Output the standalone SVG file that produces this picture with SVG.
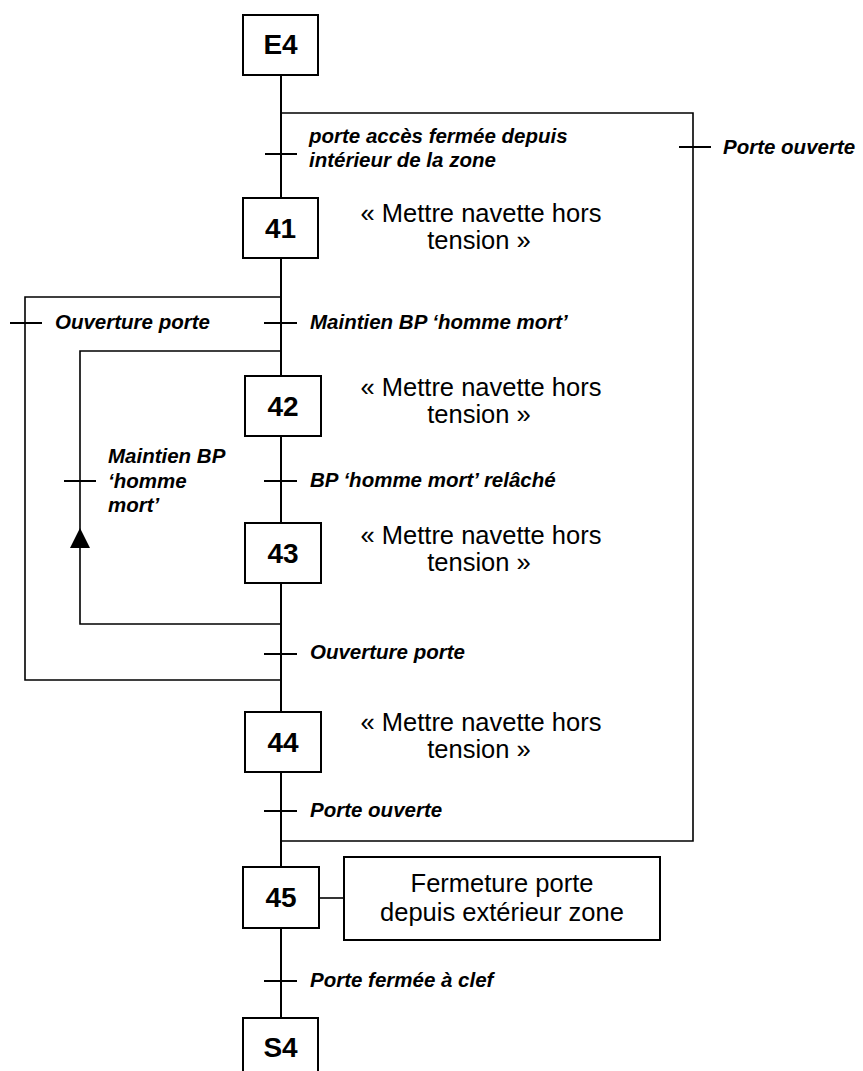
<svg xmlns="http://www.w3.org/2000/svg" width="863" height="1071" viewBox="0 0 863 1071">
<style>
.step{fill:#fff;stroke:#000;stroke-width:2}
.num{font-family:"Liberation Sans",Arial,sans-serif;font-weight:bold;font-size:28px;text-anchor:middle;fill:#000}
.act{font-family:"Liberation Sans",Arial,sans-serif;font-size:25.5px;text-anchor:middle;fill:#000}
.tr{font-family:"Liberation Sans",Arial,sans-serif;font-weight:bold;font-style:italic;font-size:20.5px;fill:#000}
.ln{fill:none;stroke:#000;stroke-width:1.6}
.main{fill:none;stroke:#000;stroke-width:2}
.tick{stroke:#000;stroke-width:2}
</style>
<rect width="863" height="1071" fill="#fff"/>
<g id="connectors">
<line class="main" x1="281" y1="75" x2="281" y2="1018"/>
<path class="ln" d="M281,113 H693 V841 H281"/>
<path class="ln" d="M281,680 H25 V297 H281"/>
<path class="ln" d="M281,624 H80 V351 H281"/>
<polygon points="80,528 70,548 90,548" fill="#000"/>
<line class="ln" x1="319" y1="898" x2="344" y2="898"/>
</g>
<g id="t-E4-41">
<line class="tick" x1="265" y1="154" x2="297" y2="154"/>
<text class="tr" x="309" y="143">porte accès fermée depuis</text>
<text class="tr" x="309" y="167">intérieur de la zone</text>
</g>
<g id="t-porte-ouverte-right">
<line class="tick" x1="679" y1="147" x2="711" y2="147"/>
<text class="tr" x="723" y="154">Porte ouverte</text>
</g>
<g id="t-41-42">
<line class="tick" x1="264" y1="323" x2="297" y2="323"/>
<text class="tr" x="310" y="329">Maintien BP ‘homme mort’</text>
</g>
<g id="t-ouverture-left">
<line class="tick" x1="10" y1="323" x2="42" y2="323"/>
<text class="tr" x="55" y="329">Ouverture porte</text>
</g>
<g id="t-42-43">
<line class="tick" x1="264" y1="481" x2="297" y2="481"/>
<text class="tr" x="310" y="487">BP ‘homme mort’ relâché</text>
</g>
<g id="t-43-42">
<line class="tick" x1="64" y1="481" x2="96" y2="481"/>
<text class="tr" x="108" y="463">Maintien BP</text>
<text class="tr" x="108" y="488">‘homme</text>
<text class="tr" x="108" y="512">mort’</text>
</g>
<g id="t-43-44">
<line class="tick" x1="264" y1="654" x2="297" y2="654"/>
<text class="tr" x="310" y="659">Ouverture porte</text>
</g>
<g id="t-44-45">
<line class="tick" x1="264" y1="811" x2="297" y2="811"/>
<text class="tr" x="310" y="817">Porte ouverte</text>
</g>
<g id="t-45-S4">
<line class="tick" x1="264" y1="981" x2="297" y2="981"/>
<text class="tr" x="310" y="987">Porte fermée à clef</text>
</g>
<g id="step-E4">
<rect class="step" x="243" y="15" width="75" height="60"/>
<text class="num" x="280.5" y="54">E4</text>
</g>
<g id="step-41">
<rect class="step" x="243" y="198" width="75" height="60"/>
<text class="num" x="280.5" y="238">41</text>
<text class="act" x="481" y="222">« Mettre navette hors</text>
<text class="act" x="479" y="249">tension »</text>
</g>
<g id="step-42">
<rect class="step" x="245" y="376" width="76" height="60"/>
<text class="num" x="283" y="416">42</text>
<text class="act" x="481" y="396">« Mettre navette hors</text>
<text class="act" x="479" y="423">tension »</text>
</g>
<g id="step-43">
<rect class="step" x="245" y="523" width="76" height="60"/>
<text class="num" x="283" y="563">43</text>
<text class="act" x="481" y="544">« Mettre navette hors</text>
<text class="act" x="479" y="571">tension »</text>
</g>
<g id="step-44">
<rect class="step" x="245" y="712" width="76" height="60"/>
<text class="num" x="283" y="752">44</text>
<text class="act" x="481" y="731">« Mettre navette hors</text>
<text class="act" x="479" y="758">tension »</text>
</g>
<g id="step-45">
<rect class="step" x="243" y="867" width="76" height="61"/>
<text class="num" x="281" y="907">45</text>
</g>
<g id="action-45">
<rect class="step" x="344" y="857" width="316" height="83"/>
<text class="act" x="502" y="892">Fermeture porte</text>
<text class="act" x="502" y="921">depuis extérieur zone</text>
</g>
<g id="step-S4">
<rect class="step" x="243" y="1018" width="75" height="62"/>
<text class="num" x="280.5" y="1057">S4</text>
</g>
</svg>
